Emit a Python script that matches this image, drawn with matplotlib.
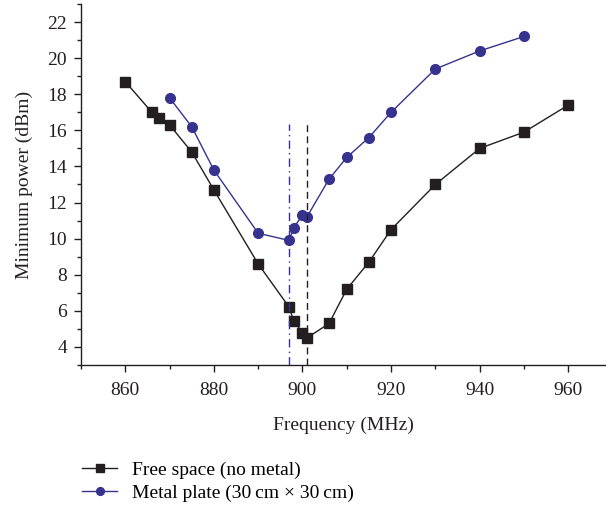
import matplotlib
matplotlib.use("Agg")
import matplotlib.pyplot as plt
from matplotlib.ticker import MultipleLocator

plt.rcParams['font.family'] = ['Liberation Serif', 'DejaVu Serif']

freq_free = [860, 866, 867.5, 870, 875, 880, 890, 897, 898, 900, 901, 906, 910, 915, 920, 930, 940, 950, 960]
power_free = [18.7, 17.0, 16.7, 16.3, 14.8, 12.7, 8.6, 6.2, 5.45, 4.8, 4.5, 5.3, 7.2, 8.7, 10.5, 13.0, 15.0, 15.9, 17.4]

freq_metal = [870, 875, 880, 890, 897, 898, 900, 901, 906, 910, 915, 920, 930, 940, 950]
power_metal = [17.8, 16.2, 13.8, 10.3, 9.9, 10.6, 11.3, 11.2, 13.3, 14.5, 15.6, 17.0, 19.4, 20.4, 21.2]

vline_metal = 897
vline_free = 901
vline_top = 16.35

labels = ["Free space (no metal)", "Metal plate (30\u2009cm \u00d7 30\u2009cm)"]

black = '#231f20'
blue = '#38328f'
fs = 14

fig = plt.figure(figsize=(6.06, 5.11), dpi=100)
ax = fig.add_axes([81/606, 1-365/511, (605-81)/606, (365-4)/511])

l1, = ax.plot(freq_free, power_free, color=black, lw=1.0, marker='s', ms=6.5, mfc=black, mec=black)
l2, = ax.plot(freq_metal, power_metal, color=blue, lw=1.0, marker='o', ms=7, mfc=blue, mec=blue)

ax.plot([vline_metal, vline_metal], [3, vline_top], color=blue, lw=1.0, ls=(0, (6, 3, 1, 3)))
ax.plot([vline_free, vline_free], [3, vline_top], color=black, lw=1.0, ls=(0, (5, 3)))

ax.set_xlim(850, 968.3)
ax.set_ylim(3, 23)
ax.xaxis.set_major_locator(MultipleLocator(20))
ax.xaxis.set_minor_locator(MultipleLocator(10))
ax.yaxis.set_major_locator(MultipleLocator(2))
ax.yaxis.set_minor_locator(MultipleLocator(1))
ax.set_yticks([4, 6, 8, 10, 12, 14, 16, 18, 20, 22])
for s in ['top', 'right']:
    ax.spines[s].set_visible(False)
for s in ['left', 'bottom']:
    ax.spines[s].set_color(black)
    ax.spines[s].set_linewidth(1.0)
ax.tick_params(which='major', direction='out', length=5, width=1, colors=black, labelsize=fs)
ax.tick_params(axis='x', which='major', pad=7)
ax.tick_params(axis='y', which='major', pad=5)
ax.tick_params(which='minor', direction='out', length=3, width=1, colors=black)

ax.set_xlabel("Frequency (MHz)", fontsize=fs, color=black, labelpad=13)
ax.set_ylabel("Minimum power (dBm)", fontsize=fs, color=black, labelpad=10.5)

fig.legend([l1, l2], labels, loc='upper left', bbox_to_anchor=(82/606, 1-461/511),
           frameon=False, fontsize=fs, handlelength=1.8, handletextpad=0.75,
           labelspacing=0.3, borderaxespad=0, borderpad=0, markerscale=0.8)

fig.savefig("out.png", dpi=100)
